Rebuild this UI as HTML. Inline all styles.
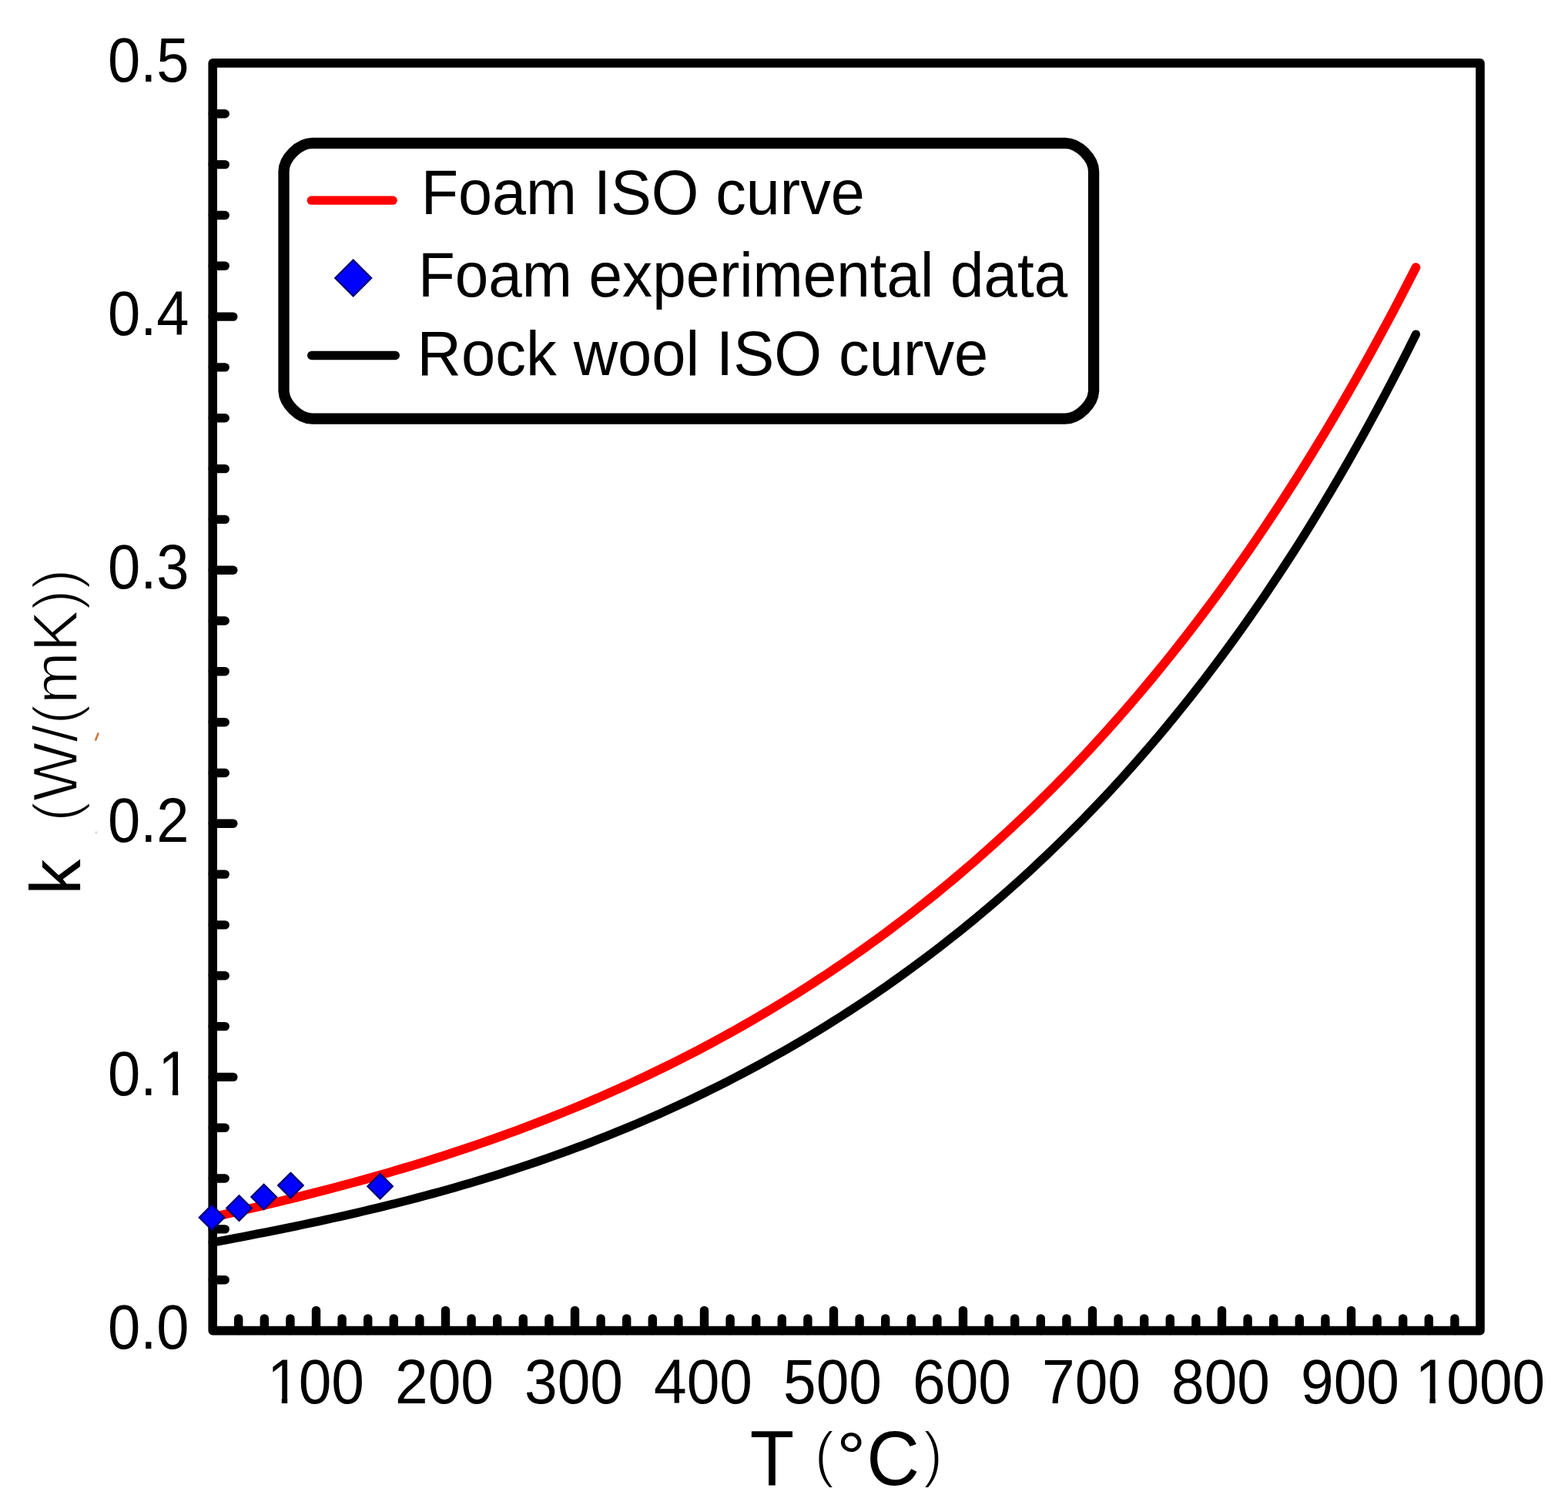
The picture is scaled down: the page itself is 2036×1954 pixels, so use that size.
<!DOCTYPE html>
<html><head><meta charset="utf-8"><title>Thermal conductivity k vs temperature T</title><style>
html,body{margin:0;padding:0;background:#fff;}
svg{display:block;}
text{font-family:'Liberation Sans',Arial,sans-serif;fill:#000;}
.tk{stroke:#000;stroke-width:11.4;stroke-linecap:round;}
.cv{fill:none;stroke-linecap:round;stroke-linejoin:round;}
.dm{fill:#0000ff;stroke:#000070;stroke-width:2.2;stroke-linejoin:miter;}
</style></head>
<body><svg width="2036" height="1954" viewBox="0 0 2036 1954">
<rect x="0" y="0" width="2036" height="1954" fill="#fff"/>
<line x1="276.2" y1="1661.7" x2="292.2" y2="1661.7" class="tk"/>
<line x1="276.2" y1="1595.9" x2="292.2" y2="1595.9" class="tk"/>
<line x1="276.2" y1="1530.0" x2="292.2" y2="1530.0" class="tk"/>
<line x1="276.2" y1="1464.2" x2="292.2" y2="1464.2" class="tk"/>
<line x1="276.2" y1="1398.4" x2="302.8" y2="1398.4" class="tk"/>
<line x1="276.2" y1="1332.6" x2="292.2" y2="1332.6" class="tk"/>
<line x1="276.2" y1="1266.8" x2="292.2" y2="1266.8" class="tk"/>
<line x1="276.2" y1="1200.9" x2="292.2" y2="1200.9" class="tk"/>
<line x1="276.2" y1="1135.1" x2="292.2" y2="1135.1" class="tk"/>
<line x1="276.2" y1="1069.3" x2="302.8" y2="1069.3" class="tk"/>
<line x1="276.2" y1="1003.5" x2="292.2" y2="1003.5" class="tk"/>
<line x1="276.2" y1="937.7" x2="292.2" y2="937.7" class="tk"/>
<line x1="276.2" y1="871.8" x2="292.2" y2="871.8" class="tk"/>
<line x1="276.2" y1="806.0" x2="292.2" y2="806.0" class="tk"/>
<line x1="276.2" y1="740.2" x2="302.8" y2="740.2" class="tk"/>
<line x1="276.2" y1="674.4" x2="292.2" y2="674.4" class="tk"/>
<line x1="276.2" y1="608.6" x2="292.2" y2="608.6" class="tk"/>
<line x1="276.2" y1="542.7" x2="292.2" y2="542.7" class="tk"/>
<line x1="276.2" y1="476.9" x2="292.2" y2="476.9" class="tk"/>
<line x1="276.2" y1="411.1" x2="302.8" y2="411.1" class="tk"/>
<line x1="276.2" y1="345.3" x2="292.2" y2="345.3" class="tk"/>
<line x1="276.2" y1="279.5" x2="292.2" y2="279.5" class="tk"/>
<line x1="276.2" y1="213.6" x2="292.2" y2="213.6" class="tk"/>
<line x1="276.2" y1="147.8" x2="292.2" y2="147.8" class="tk"/>
<line x1="309.7" y1="1727.6" x2="309.7" y2="1711.9" class="tk"/>
<line x1="343.3" y1="1727.6" x2="343.3" y2="1711.9" class="tk"/>
<line x1="376.9" y1="1727.6" x2="376.9" y2="1711.9" class="tk"/>
<line x1="410.5" y1="1727.6" x2="410.5" y2="1701.4" class="tk"/>
<line x1="444.1" y1="1727.6" x2="444.1" y2="1711.9" class="tk"/>
<line x1="477.7" y1="1727.6" x2="477.7" y2="1711.9" class="tk"/>
<line x1="511.3" y1="1727.6" x2="511.3" y2="1711.9" class="tk"/>
<line x1="544.9" y1="1727.6" x2="544.9" y2="1711.9" class="tk"/>
<line x1="578.5" y1="1727.6" x2="578.5" y2="1701.4" class="tk"/>
<line x1="612.1" y1="1727.6" x2="612.1" y2="1711.9" class="tk"/>
<line x1="645.7" y1="1727.6" x2="645.7" y2="1711.9" class="tk"/>
<line x1="679.3" y1="1727.6" x2="679.3" y2="1711.9" class="tk"/>
<line x1="712.9" y1="1727.6" x2="712.9" y2="1711.9" class="tk"/>
<line x1="746.5" y1="1727.6" x2="746.5" y2="1701.4" class="tk"/>
<line x1="780.1" y1="1727.6" x2="780.1" y2="1711.9" class="tk"/>
<line x1="813.7" y1="1727.6" x2="813.7" y2="1711.9" class="tk"/>
<line x1="847.3" y1="1727.6" x2="847.3" y2="1711.9" class="tk"/>
<line x1="880.9" y1="1727.6" x2="880.9" y2="1711.9" class="tk"/>
<line x1="914.5" y1="1727.6" x2="914.5" y2="1701.4" class="tk"/>
<line x1="948.1" y1="1727.6" x2="948.1" y2="1711.9" class="tk"/>
<line x1="981.7" y1="1727.6" x2="981.7" y2="1711.9" class="tk"/>
<line x1="1015.3" y1="1727.6" x2="1015.3" y2="1711.9" class="tk"/>
<line x1="1048.9" y1="1727.6" x2="1048.9" y2="1711.9" class="tk"/>
<line x1="1082.5" y1="1727.6" x2="1082.5" y2="1701.4" class="tk"/>
<line x1="1116.1" y1="1727.6" x2="1116.1" y2="1711.9" class="tk"/>
<line x1="1149.7" y1="1727.6" x2="1149.7" y2="1711.9" class="tk"/>
<line x1="1183.3" y1="1727.6" x2="1183.3" y2="1711.9" class="tk"/>
<line x1="1216.9" y1="1727.6" x2="1216.9" y2="1711.9" class="tk"/>
<line x1="1250.5" y1="1727.6" x2="1250.5" y2="1701.4" class="tk"/>
<line x1="1284.1" y1="1727.6" x2="1284.1" y2="1711.9" class="tk"/>
<line x1="1317.7" y1="1727.6" x2="1317.7" y2="1711.9" class="tk"/>
<line x1="1351.3" y1="1727.6" x2="1351.3" y2="1711.9" class="tk"/>
<line x1="1384.9" y1="1727.6" x2="1384.9" y2="1711.9" class="tk"/>
<line x1="1418.5" y1="1727.6" x2="1418.5" y2="1701.4" class="tk"/>
<line x1="1452.1" y1="1727.6" x2="1452.1" y2="1711.9" class="tk"/>
<line x1="1485.7" y1="1727.6" x2="1485.7" y2="1711.9" class="tk"/>
<line x1="1519.3" y1="1727.6" x2="1519.3" y2="1711.9" class="tk"/>
<line x1="1552.9" y1="1727.6" x2="1552.9" y2="1711.9" class="tk"/>
<line x1="1586.5" y1="1727.6" x2="1586.5" y2="1701.4" class="tk"/>
<line x1="1620.1" y1="1727.6" x2="1620.1" y2="1711.9" class="tk"/>
<line x1="1653.7" y1="1727.6" x2="1653.7" y2="1711.9" class="tk"/>
<line x1="1687.3" y1="1727.6" x2="1687.3" y2="1711.9" class="tk"/>
<line x1="1720.9" y1="1727.6" x2="1720.9" y2="1711.9" class="tk"/>
<line x1="1754.5" y1="1727.6" x2="1754.5" y2="1701.4" class="tk"/>
<line x1="1788.1" y1="1727.6" x2="1788.1" y2="1711.9" class="tk"/>
<line x1="1821.7" y1="1727.6" x2="1821.7" y2="1711.9" class="tk"/>
<line x1="1855.3" y1="1727.6" x2="1855.3" y2="1711.9" class="tk"/>
<line x1="1888.9" y1="1727.6" x2="1888.9" y2="1711.9" class="tk"/>
<path d="M276.2,81.9 H1922.0 V1727.6 H276.2 Z" fill="none" stroke="#000" stroke-width="11.6" stroke-linejoin="round"/>
<g transform="translate(140.044,1751.2) scale(0.926,1)"><text font-size="82">0.0</text></g>
<g transform="translate(140.044,1422.1) scale(0.926,1)"><text font-size="82">0.<tspan dx="2">1</tspan></text><rect x="74.887" y="-6.8" width="15.7" height="7.6" fill="#fff"/><rect x="98.487" y="-6.8" width="15" height="7.6" fill="#fff"/></g>
<g transform="translate(140.044,1093) scale(0.926,1)"><text font-size="82">0.2</text></g>
<g transform="translate(140.044,763.9) scale(0.926,1)"><text font-size="82">0.3</text></g>
<g transform="translate(140.044,434.8) scale(0.926,1)"><text font-size="82">0.4</text></g>
<g transform="translate(140.044,105.7) scale(0.926,1)"><text font-size="82">0.5</text></g>
<g transform="translate(345.04,1822.3) scale(0.935,1)"><text font-size="82"><tspan dx="2">1</tspan><tspan dx="-2">0</tspan>0</text><rect x="6.5" y="-6.8" width="15.7" height="7.6" fill="#fff"/><rect x="30.1" y="-6.8" width="15" height="7.6" fill="#fff"/></g>
<g transform="translate(513.04,1822.3) scale(0.935,1)"><text font-size="82">200</text></g>
<g transform="translate(681.04,1822.3) scale(0.935,1)"><text font-size="82">300</text></g>
<g transform="translate(849.04,1822.3) scale(0.935,1)"><text font-size="82">400</text></g>
<g transform="translate(1017.04,1822.3) scale(0.935,1)"><text font-size="82">500</text></g>
<g transform="translate(1185.04,1822.3) scale(0.935,1)"><text font-size="82">600</text></g>
<g transform="translate(1353.04,1822.3) scale(0.935,1)"><text font-size="82">700</text></g>
<g transform="translate(1521.04,1822.3) scale(0.935,1)"><text font-size="82">800</text></g>
<g transform="translate(1689.04,1822.3) scale(0.935,1)"><text font-size="82">900</text></g>
<g transform="translate(1835.72,1822.3) scale(0.935,1)"><text font-size="82"><tspan dx="2">1</tspan><tspan dx="-2">0</tspan>00</text><rect x="6.5" y="-6.8" width="15.7" height="7.6" fill="#fff"/><rect x="30.1" y="-6.8" width="15" height="7.6" fill="#fff"/></g>
<text transform="translate(973.819,1928.6) scale(0.94,1.025)" font-size="100">T</text>
<text stroke="#fff" stroke-width="2.6" transform="translate(1057.615,1914.678) scale(0.781,0.801)" font-size="100">(</text>
<text transform="translate(1086.3,1921.8) scale(0.95,0.893)" font-size="100">°</text>
<text transform="translate(1125.238,1928.304) scale(0.952,0.996)" font-size="100">C</text>
<text stroke="#fff" stroke-width="2.6" transform="translate(1198.638,1914.678) scale(0.762,0.801)" font-size="100">)</text>
<text transform="translate(103.6,1161.747) rotate(-90) scale(0.921,0.936)" font-size="100">k</text>
<text stroke="#fff" stroke-width="1.7" transform="translate(99.9,1067.177) rotate(-90) scale(0.955,0.96)" font-size="85"><tspan stroke-width="2.6">(</tspan>W/<tspan stroke-width="2.6">(</tspan>mK<tspan stroke-width="2.6">))</tspan></text>
<path d="M405.5,185.8 H1383.1 C1400.5,185.8 1420.1,205.4 1420.1,222.8 V506.6 C1420.1,524.0 1400.5,543.6 1383.1,543.6 H405.5 C388.1,543.6 368.5,524.0 368.5,506.6 V222.8 C368.5,205.4 388.1,185.8 405.5,185.8 Z" fill="none" stroke="#000" stroke-width="14.3" stroke-linejoin="round"/>
<line x1="404.2" y1="260.2" x2="510.2" y2="260.2" stroke="#f00" stroke-width="11.2" stroke-linecap="round"/>
<line x1="404.8" y1="461.5" x2="513.2" y2="461.5" stroke="#000" stroke-width="11.6" stroke-linecap="round"/>
<path d="M458.7,337.5 L482.2,361.0 L458.7,384.5 L435.2,361.0 Z" class="dm"/>
<text transform="translate(546.744,278.3) scale(0.965,1)" font-size="82">Foam ISO curve</text>
<text transform="translate(542.921,385.2) scale(0.954,1)" font-size="82">Foam experimental data</text>
<text transform="translate(541.62,486.5) scale(0.969,1)" font-size="82">Rock wool ISO curve</text>
<path d="M276.10,1613.15 L285.93,1611.30 L295.75,1609.44 L305.58,1607.56 L315.41,1605.67 L325.23,1603.76 L335.06,1601.84 L344.88,1599.90 L354.71,1597.94 L364.54,1595.96 L374.36,1593.95 L384.19,1591.92 L394.02,1589.87 L403.84,1587.79 L413.67,1585.68 L423.50,1583.55 L433.32,1581.38 L443.15,1579.18 L452.98,1576.96 L462.80,1574.69 L472.63,1572.40 L482.45,1570.07 L492.28,1567.70 L502.11,1565.29 L511.93,1562.85 L521.76,1560.37 L531.59,1557.84 L541.41,1555.28 L551.24,1552.67 L561.07,1550.02 L570.89,1547.33 L580.72,1544.59 L590.55,1541.81 L600.37,1538.97 L610.20,1536.10 L620.02,1533.17 L629.85,1530.19 L639.68,1527.17 L649.50,1524.09 L659.33,1520.96 L669.16,1517.78 L678.98,1514.54 L688.81,1511.25 L698.64,1507.91 L708.46,1504.51 L718.29,1501.06 L728.12,1497.54 L737.94,1493.97 L747.77,1490.34 L757.59,1486.65 L767.42,1482.90 L777.25,1479.09 L787.07,1475.22 L796.90,1471.29 L806.73,1467.29 L816.55,1463.22 L826.38,1459.10 L836.21,1454.90 L846.03,1450.64 L855.86,1446.31 L865.68,1441.92 L875.51,1437.45 L885.34,1432.92 L895.16,1428.31 L904.99,1423.63 L914.82,1418.88 L924.64,1414.06 L934.47,1409.16 L944.30,1404.19 L954.12,1399.14 L963.95,1394.01 L973.78,1388.80 L983.60,1383.52 L993.43,1378.16 L1003.25,1372.71 L1013.08,1367.18 L1022.91,1361.57 L1032.73,1355.88 L1042.56,1350.10 L1052.39,1344.23 L1062.21,1338.28 L1072.04,1332.24 L1081.87,1326.10 L1091.69,1319.88 L1101.52,1313.56 L1111.35,1307.15 L1121.17,1300.65 L1131.00,1294.05 L1140.82,1287.35 L1150.65,1280.55 L1160.48,1273.66 L1170.30,1266.66 L1180.13,1259.55 L1189.96,1252.35 L1199.78,1245.03 L1209.61,1237.61 L1219.44,1230.08 L1229.26,1222.44 L1239.09,1214.69 L1248.92,1206.82 L1258.74,1198.83 L1268.57,1190.73 L1278.39,1182.51 L1288.22,1174.17 L1298.05,1165.70 L1307.87,1157.11 L1317.70,1148.39 L1327.53,1139.54 L1337.35,1130.56 L1347.18,1121.44 L1357.01,1112.19 L1366.83,1102.81 L1376.66,1093.28 L1386.48,1083.61 L1396.31,1073.80 L1406.14,1063.83 L1415.96,1053.72 L1425.79,1043.46 L1435.62,1033.04 L1445.44,1022.47 L1455.27,1011.74 L1465.10,1000.84 L1474.92,989.78 L1484.75,978.55 L1494.58,967.15 L1504.40,955.58 L1514.23,943.83 L1524.05,931.90 L1533.88,919.78 L1543.71,907.49 L1553.53,895.00 L1563.36,882.32 L1573.19,869.44 L1583.01,856.37 L1592.84,843.10 L1602.67,829.61 L1612.49,815.92 L1622.32,802.02 L1632.15,787.90 L1641.97,773.56 L1651.80,758.99 L1661.62,744.20 L1671.45,729.17 L1681.28,713.91 L1691.10,698.41 L1700.93,682.67 L1710.76,666.67 L1720.58,650.43 L1730.41,633.92 L1740.24,617.16 L1750.06,600.13 L1759.89,582.83 L1769.72,565.25 L1779.54,547.39 L1789.37,529.25 L1799.19,510.82 L1809.02,492.09 L1818.85,473.07 L1828.67,453.73 L1838.50,434.09" class="cv" stroke="#000" stroke-width="11.2"/>
<path d="M279.46,1579.35 L289.27,1577.16 L299.07,1574.95 L308.88,1572.72 L318.68,1570.47 L328.49,1568.19 L338.29,1565.89 L348.10,1563.57 L357.90,1561.22 L367.71,1558.85 L377.51,1556.45 L387.32,1554.01 L397.12,1551.55 L406.93,1549.06 L416.73,1546.54 L426.54,1543.99 L436.34,1541.41 L446.15,1538.79 L455.96,1536.13 L465.76,1533.44 L475.57,1530.72 L485.37,1527.96 L495.18,1525.16 L504.98,1522.32 L514.79,1519.44 L524.59,1516.53 L534.40,1513.57 L544.20,1510.57 L554.01,1507.53 L563.81,1504.44 L573.62,1501.31 L583.42,1498.14 L593.23,1494.92 L603.03,1491.66 L612.84,1488.34 L622.64,1484.98 L632.45,1481.57 L642.26,1478.11 L652.06,1474.60 L661.87,1471.04 L671.67,1467.43 L681.48,1463.77 L691.28,1460.05 L701.09,1456.28 L710.89,1452.45 L720.70,1448.57 L730.50,1444.63 L740.31,1440.64 L750.11,1436.58 L759.92,1432.47 L769.72,1428.30 L779.53,1424.07 L789.33,1419.77 L799.14,1415.42 L808.95,1411.00 L818.75,1406.51 L828.56,1401.97 L838.36,1397.35 L848.17,1392.67 L857.97,1387.93 L867.78,1383.11 L877.58,1378.23 L887.39,1373.27 L897.19,1368.25 L907.00,1363.15 L916.80,1357.98 L926.61,1352.74 L936.41,1347.42 L946.22,1342.03 L956.02,1336.56 L965.83,1331.01 L975.64,1325.38 L985.44,1319.68 L995.25,1313.89 L1005.05,1308.02 L1014.86,1302.07 L1024.66,1296.04 L1034.47,1289.92 L1044.27,1283.71 L1054.08,1277.42 L1063.88,1271.03 L1073.69,1264.56 L1083.49,1258.00 L1093.30,1251.35 L1103.10,1244.60 L1112.91,1237.76 L1122.71,1230.82 L1132.52,1223.78 L1142.32,1216.65 L1152.13,1209.42 L1161.94,1202.08 L1171.74,1194.65 L1181.55,1187.11 L1191.35,1179.46 L1201.16,1171.71 L1210.96,1163.85 L1220.77,1155.88 L1230.57,1147.80 L1240.38,1139.61 L1250.18,1131.30 L1259.99,1122.88 L1269.79,1114.34 L1279.60,1105.68 L1289.40,1096.90 L1299.21,1087.99 L1309.01,1078.97 L1318.82,1069.81 L1328.63,1060.53 L1338.43,1051.12 L1348.24,1041.58 L1358.04,1031.91 L1367.85,1022.10 L1377.65,1012.15 L1387.46,1002.07 L1397.26,991.84 L1407.07,981.48 L1416.87,970.96 L1426.68,960.30 L1436.48,949.49 L1446.29,938.53 L1456.09,927.42 L1465.90,916.15 L1475.70,904.72 L1485.51,893.14 L1495.32,881.39 L1505.12,869.47 L1514.93,857.39 L1524.73,845.14 L1534.54,832.72 L1544.34,820.12 L1554.15,807.35 L1563.95,794.40 L1573.76,781.26 L1583.56,767.94 L1593.37,754.43 L1603.17,740.73 L1612.98,726.84 L1622.78,712.76 L1632.59,698.47 L1642.39,683.98 L1652.20,669.29 L1662.00,654.39 L1671.81,639.29 L1681.62,623.96 L1691.42,608.42 L1701.23,592.67 L1711.03,576.69 L1720.84,560.48 L1730.64,544.04 L1740.45,527.38 L1750.25,510.47 L1760.06,493.33 L1769.86,475.94 L1779.67,458.31 L1789.47,440.43 L1799.28,422.29 L1809.08,403.90 L1818.89,385.25 L1828.69,366.33 L1838.50,347.14" class="cv" stroke="#f00" stroke-width="11.8"/>
<path d="M275.1,1564.4 L291.4,1580.7 L275.1,1597.0 L258.8,1580.7 Z" class="dm"/>
<path d="M310.5,1552.3 L326.8,1568.6 L310.5,1584.9 L294.2,1568.6 Z" class="dm"/>
<path d="M342.6,1537.7 L358.9,1554.0 L342.6,1570.3 L326.3,1554.0 Z" class="dm"/>
<path d="M377.4,1522.8 L393.7,1539.1 L377.4,1555.4 L361.1,1539.1 Z" class="dm"/>
<path d="M493.6,1523.9 L509.9,1540.2 L493.6,1556.5 L477.3,1540.2 Z" class="dm"/>
<line x1="124.3" y1="960.5" x2="127.4" y2="952.5" stroke="#c0601c" stroke-width="2.6" stroke-linecap="round" opacity="0.85"/>
<circle cx="124.8" cy="1080.8" r="1.6" fill="#d8d8d8"/>
</svg></body></html>
